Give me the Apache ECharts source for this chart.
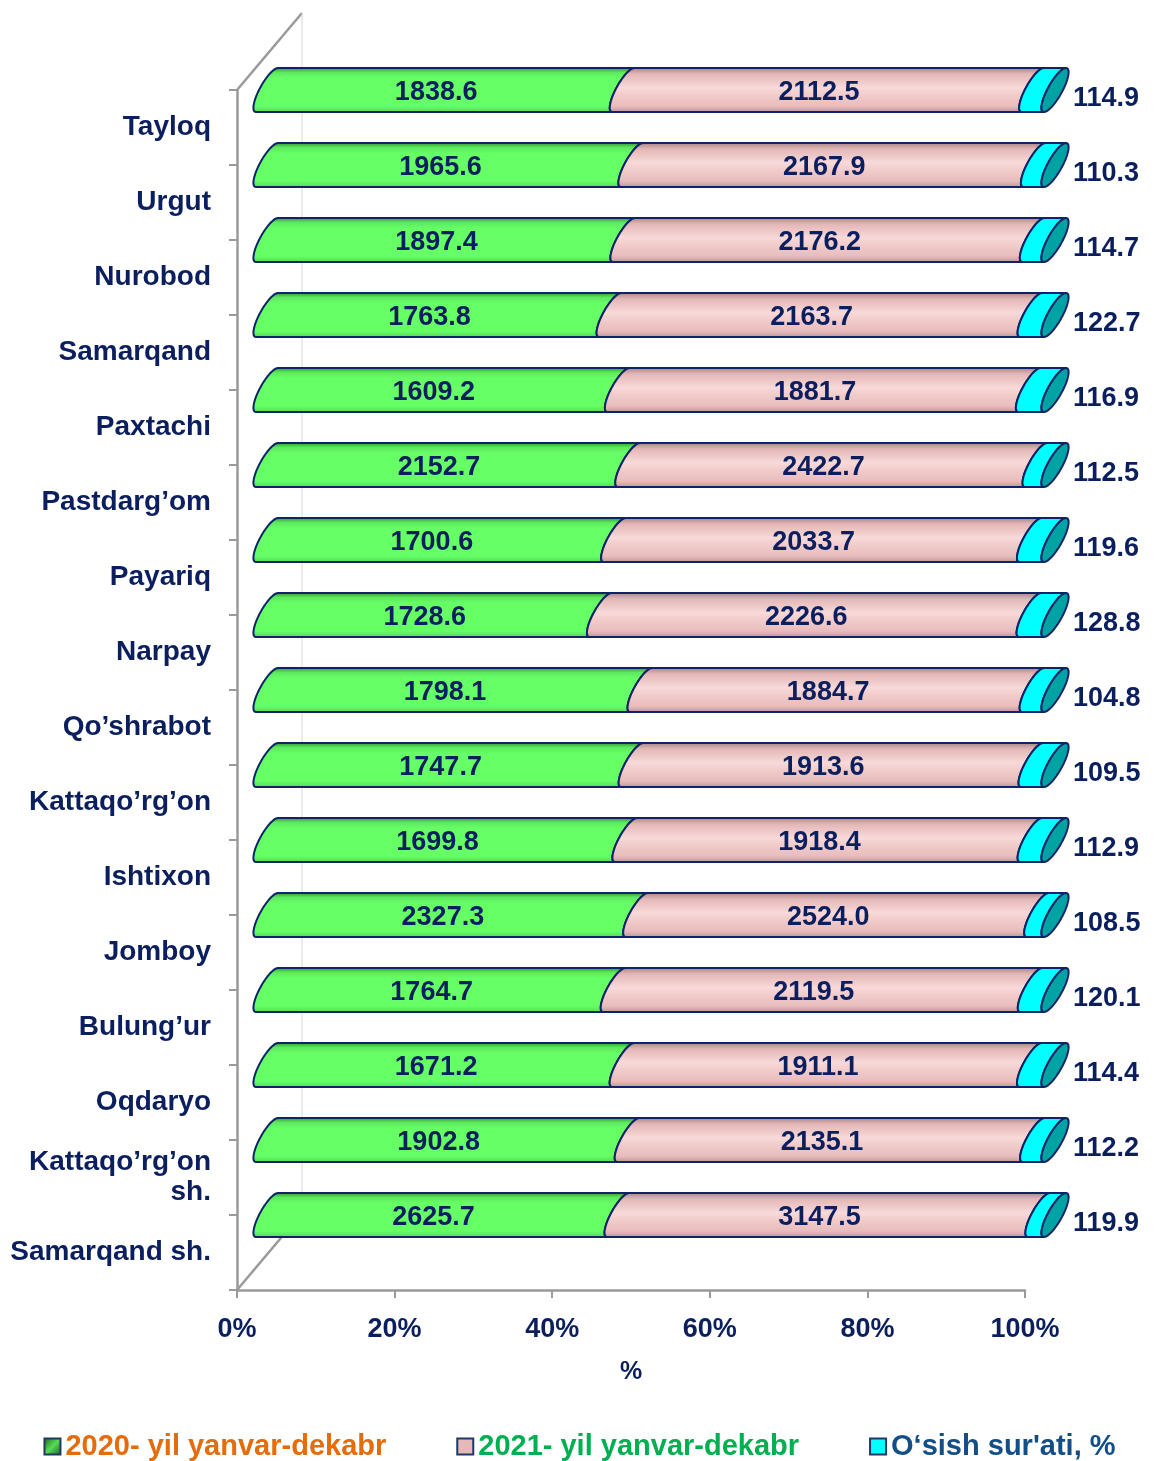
<!DOCTYPE html>
<html>
<head>
<meta charset="utf-8">
<script src="https://cdn.jsdelivr.net/npm/echarts@6/dist/echarts.min.js"></script>
<style>
html,body{margin:0;padding:0;background:#fff;}
#chart{width:1159px;height:1461px;}
</style>
</head>
<body>
<div id="chart"></div>
<script>
const categories = ['Tayloq','Urgut','Nurobod','Samarqand','Paxtachi','Pastdarg’om','Payariq','Narpay','Qo’shrabot','Kattaqo’rg’on','Ishtixon','Jomboy','Bulung’ur','Oqdaryo','Kattaqo’rg’on sh.','Samarqand sh.'];
const values2020 = [1838.6,1965.6,1897.4,1763.8,1609.2,2152.7,1700.6,1728.6,1798.1,1747.7,1699.8,2327.3,1764.7,1671.2,1902.8,2625.7];
const values2021 = [2112.5,2167.9,2176.2,2163.7,1881.7,2422.7,2033.7,2226.6,1884.7,1913.6,1918.4,2524.0,2119.5,1911.1,2135.1,3147.5];
const growth = [114.9,110.3,114.7,122.7,116.9,112.5,119.6,128.8,104.8,109.5,112.9,108.5,120.1,114.4,112.2,119.9];
const seriesNames = ['2020- yil yanvar-dekabr','2021- yil yanvar-dekabr','O‘sish sur\'ati, %'];
const xTicks = [0,20,40,60,80,100];

const chart = echarts.init(document.getElementById('chart'), null, {renderer:'canvas'});

const raw = [values2020, values2021, growth];
const totals = categories.map((c,i)=>values2020[i]+values2021[i]+growth[i]);
const seriesData = [[],[],[]];
categories.forEach((c,i)=>{
  let acc = 0;
  for (let k=0;k<3;k++){
    const pct = raw[k][i]/totals[i]*100;
    seriesData[k].push([acc, acc+pct, i, raw[k][i]]);
    acc += pct;
  }
});

const NAVY = '#0E2466';
const LABEL = '#0B1F5E';
const FONT = '"Liberation Sans", Arial, sans-serif';

const fills = [
  new echarts.graphic.LinearGradient(0,0,0,1,[
    {offset:0,color:'#2a8f2a'},{offset:0.12,color:'#5ee85e'},{offset:0.25,color:'#66ff66'},
    {offset:0.85,color:'#66ff66'},{offset:1,color:'#52d552'}]),
  new echarts.graphic.LinearGradient(0,0,0,1,[
    {offset:0,color:'#a07f7f'},{offset:0.15,color:'#e3b6b6'},{offset:0.45,color:'#f8d9d9'},
    {offset:0.6,color:'#f2cccc'},{offset:0.85,color:'#e8bcbc'},{offset:1,color:'#b99393'}]),
  '#00ffff'
];

function makeRender(k){
  return function(params, api){
    const start = api.value(0), end = api.value(1), cat = api.value(2), v = api.value(3);
    const p1 = api.coord([start, cat]);
    const p2 = api.coord([end, cat]);
    const band = api.size([0,1])[1];
    const dx = 19, s = 22, a = 8, h = 22;
    const yc = p1[1] - band/2;
    const x1 = p1[0] + dx, x2 = p2[0] + dx;
    const ell = (x, t) => [x + s/2 + a*Math.cos(t) - (s/2)*Math.sin(t), yc + h*Math.sin(t)];
    const pts = [];
    const N = 24;
    pts.push([x1, yc + h]);
    for (let j=0;j<=N;j++){ const t = Math.PI/2 + Math.PI*j/N; pts.push(ell(x2,t)); }
    for (let j=0;j<=N;j++){ const t = 3*Math.PI/2 - Math.PI*j/N; pts.push(ell(x1,t)); }
    const children = [{
      type:'polygon', shape:{points:pts},
      style:{fill: fills[k], stroke: NAVY, lineWidth: 2}
    }];
    if (k === 2){
      const ep = [];
      for (let j=0;j<48;j++){ ep.push(ell(x2, 2*Math.PI*j/48)); }
      children.push({type:'polygon', shape:{points:ep}, style:{fill:'#00a3a3', stroke:NAVY, lineWidth:2}});
      children.push({type:'text', style:{text: v.toFixed(1), x: x2 + 29, y: yc + 9, fill: LABEL,
        font: 'bold 27px ' + FONT, align:'left', verticalAlign:'middle'}});
    } else {
      children.push({type:'text', style:{text: v.toFixed(1), x: (x1+x2)/2 + 2, y: yc + 3, fill: LABEL,
        font: 'bold 27px ' + FONT, align:'center', verticalAlign:'middle'}});
    }
    return {type:'group', children};
  };
}

const gridLeft = 237, gridTop = 90, gridRight = 1159-1025, gridBottom = 1461-1290;

const option = {
  backgroundColor:'#ffffff',
  animation:false,
  grid:{left:gridLeft, top:gridTop, right:gridRight, bottom:gridBottom, containLabel:false},
  xAxis:{
    type:'value', min:0, max:100, interval:20,
    axisLine:{show:true, lineStyle:{color:'#9a9a9a', width:2.5}},
    axisTick:{show:true, length:8, lineStyle:{color:'#9a9a9a', width:2}},
    splitLine:{show:false},
    axisLabel:{formatter:'{value}%', color:LABEL, fontSize:27, fontWeight:'bold', fontFamily:FONT, margin:26},
    name:'%', nameLocation:'middle', nameGap:70,
    nameTextStyle:{color:LABEL, fontSize:25, fontWeight:'bold', fontFamily:FONT}
  },
  yAxis:{
    type:'category', data:categories, inverse:true,
    axisLine:{show:true, lineStyle:{color:'#9a9a9a', width:2.5}},
    axisTick:{show:true, length:8, lineStyle:{color:'#9a9a9a', width:2}},
    axisLabel:{color:LABEL, fontSize:28, fontWeight:'bold', fontFamily:FONT, margin:26, lineHeight:30,
      padding:[8,0,0,0],
      formatter: v => v === 'Kattaqo’rg’on sh.' ? 'Kattaqo’rg’on\nsh.' : v}
  },
  legend:{
    top:1427, left:'center', itemWidth:16, itemHeight:16, itemGap:70,
    textStyle:{fontSize:29, fontWeight:'bold', fontFamily:FONT},
    data:[
      {name:seriesNames[0], icon:'rect', itemStyle:{color:new echarts.graphic.LinearGradient(0,0,1,1,[{offset:0,color:'#1d5a1d'},{offset:0.5,color:'#55dd55'},{offset:1,color:'#1d5a1d'}]), borderColor:'#1F3864', borderWidth:2}, textStyle:{color:'#E46C0A'}},
      {name:seriesNames[1], icon:'rect', itemStyle:{color:'#e6b9b8', borderColor:'#1F3864', borderWidth:2}, textStyle:{color:'#00B050'}},
      {name:seriesNames[2], icon:'rect', itemStyle:{color:'#00ffff', borderColor:'#1F3864', borderWidth:2}, textStyle:{color:'#134F86'}}
    ]
  },
  graphic:[
    {type:'line', z:-1, shape:{x1:237,y1:90,x2:302,y2:13}, style:{stroke:'#9a9a9a', lineWidth:2.5}},
    {type:'line', z:-1, shape:{x1:302,y1:13,x2:302,y2:1213}, style:{stroke:'#d6d6d6', lineWidth:1}},
    {type:'line', z:-1, shape:{x1:237,y1:1290,x2:302,y2:1213}, style:{stroke:'#9a9a9a', lineWidth:2.5}}
  ],
  series: seriesData.map((d,k)=>({
    name: seriesNames[k], type:'custom', renderItem: makeRender(k),
    encode:{x:[0,1], y:2}, data:d, clip:false, z:2,
    itemStyle:{color: k===0?'#66ff66':(k===1?'#e6b9b8':'#00ffff')}
  }))
};
chart.setOption(option);
</script>
</body>
</html>
